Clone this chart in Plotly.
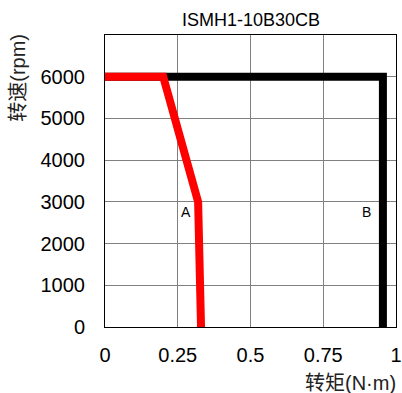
import plotly.graph_objects as go

red_torque = [0, 0.2, 0.32, 0.33]
red_speed = [6000, 6000, 3000, 0]
black_torque = [0, 0.955, 0.955]
black_speed = [6000, 6000, 0]
x_ticks = [0, 0.25, 0.5, 0.75, 1]
x_tick_labels = ["0", "0.25", "0.5", "0.75", "1"]
y_ticks = [0, 1000, 2000, 3000, 4000, 5000, 6000]
title = "ISMH1-10B30CB"
labels = [("A", 0.277, 2760), ("B", 0.898, 2760)]

fig = go.Figure()
fig.add_trace(go.Scatter(x=black_torque, y=black_speed, mode="lines",
                         line=dict(color="black", width=8), showlegend=False))
fig.add_trace(go.Scatter(x=red_torque, y=red_speed, mode="lines",
                         line=dict(color="#ff0000", width=8), showlegend=False))
for t, x, y in labels:
    fig.add_annotation(x=x, y=y, text=t, showarrow=False,
                       font=dict(family="Liberation Sans, Arial", size=14, color="black"))

fig.add_annotation(xref="paper", yref="paper", x=0.5, y=1.051, yanchor="middle",
                   text=title, showarrow=False,
                   font=dict(family="Liberation Sans, Arial", size=18, color="black"))
fig.add_annotation(xref="paper", yref="paper", x=-0.30, y=1.01, xanchor="center", yanchor="top",
                   text="转速(rpm)", textangle=-90, showarrow=False,
                   font=dict(family="Liberation Sans, Noto Sans CJK SC", size=20, color="#222222"))
fig.add_annotation(xref="paper", yref="paper", x=1.007, y=-0.192, xanchor="right", yanchor="middle",
                   text="转矩(N·m)", showarrow=False,
                   font=dict(family="Liberation Sans, Noto Sans CJK SC", size=20, color="#222222"))

fig.update_layout(
    width=402, height=393,
    margin=dict(l=105, r=6, t=35, b=66),
    plot_bgcolor="white", paper_bgcolor="white",
    font=dict(family="Liberation Sans, Arial", size=20, color="black"),
)
fig.update_xaxes(range=[0, 1], tickvals=x_ticks, ticktext=x_tick_labels,
                 showgrid=True, gridcolor="#808080", gridwidth=1,
                 showline=True, linecolor="black", linewidth=1, mirror=True,
                 zeroline=False, ticks="", ticklabelstandoff=10, automargin=False)
fig.update_yaxes(range=[0, 7000], tickvals=y_ticks,
                 showgrid=True, gridcolor="#808080", gridwidth=1,
                 showline=True, linecolor="black", linewidth=1, mirror=True,
                 zeroline=False, ticks="", ticklabelstandoff=15, automargin=False)

fig.write_html("out.html", config={"displayModeBar": False},
               post_script="document.body.style.margin='0';document.body.style.overflow='hidden';")
